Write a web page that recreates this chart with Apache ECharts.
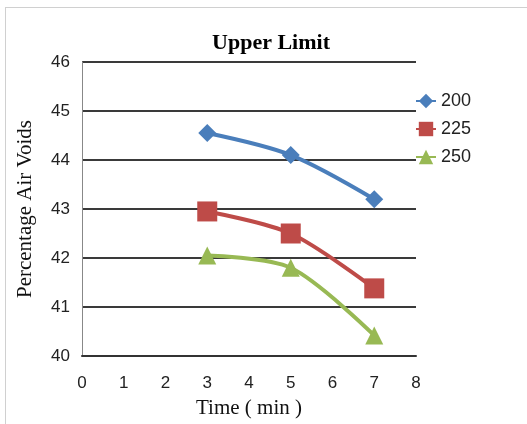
<!DOCTYPE html>
<html>
<head>
<meta charset="utf-8">
<script src="https://cdn.jsdelivr.net/npm/echarts@6/dist/echarts.min.js"></script>
<style>
  html, body { margin: 0; padding: 0; background: #fff; }
  .frame { position: absolute; left: 5px; top: 7px; width: 540px; height: 430px; border: 1px solid #d0d0d0; }
  #chart { position: absolute; left: 0; top: 0; width: 527px; height: 424px; }
</style>
</head>
<body>
<div class="frame"></div>
<div id="chart"></div>
<script>
  // data
  const times = [3, 5, 7];
  const seriesNames = ['200', '225', '250'];
  const v200 = [44.55, 44.1, 43.2];
  const v225 = [42.95, 42.5, 41.38];
  const v250 = [42.05, 41.8, 40.42];
  const colors = ['#4a7ebb', '#be4b48', '#98b954'];
  const symbols = ['diamond', 'rect', 'triangle'];

  const chart = echarts.init(document.getElementById('chart'));

  const allValues = [v200, v225, v250];
  const series = seriesNames.map((name, i) => ({
    name: name,
    type: 'line',
    smooth: 0.3,
    data: times.map((t, j) => [t, allValues[i][j]]),
    symbol: symbols[i],
    symbolSize: i === 1 ? 20 : 18,
    lineStyle: { color: colors[i], width: 4 },
    itemStyle: { color: colors[i] },
    z: 3 + i
  }));

  chart.setOption({
    animation: false,
    title: {
      text: 'Upper Limit',
      left: 266,
      top: 27,
      textAlign: 'center',
      textStyle: { fontFamily: 'Liberation Serif', fontWeight: 'bold', fontSize: 22, color: '#000' }
    },
    legend: {
      orient: 'vertical',
      left: 410,
      top: 87,
      itemGap: 10,
      itemWidth: 20,
      itemHeight: 18,
      data: seriesNames,
      textStyle: { fontFamily: 'Liberation Sans', fontSize: 18, color: '#222' }
    },
    grid: { left: 82, right: 111, top: 62, bottom: 67 },
    xAxis: {
      type: 'value',
      min: 0,
      max: 8,
      interval: 1,
      name: 'Time ( min )',
      nameLocation: 'middle',
      nameGap: 42,
      nameTextStyle: { fontFamily: 'Liberation Serif', fontSize: 21, color: '#111' },
      axisLine: { lineStyle: { color: '#333', width: 2 } },
      axisTick: { show: false },
      axisLabel: { fontFamily: 'Liberation Sans', fontSize: 17, color: '#222', margin: 19 },
      splitLine: { show: false }
    },
    yAxis: {
      type: 'value',
      min: 40,
      max: 46,
      interval: 1,
      name: 'Percentage Air Voids',
      nameLocation: 'middle',
      nameGap: 46,
      nameTextStyle: { fontFamily: 'Liberation Serif', fontSize: 21, color: '#111' },
      axisLine: { show: true, lineStyle: { color: '#888', width: 1 } },
      axisTick: { show: false },
      axisLabel: { fontFamily: 'Liberation Sans', fontSize: 17, color: '#222', margin: 12 },
      splitLine: { lineStyle: { color: '#3a3a3a', width: 2 } }
    },
    series: series
  });
</script>
</body>
</html>
